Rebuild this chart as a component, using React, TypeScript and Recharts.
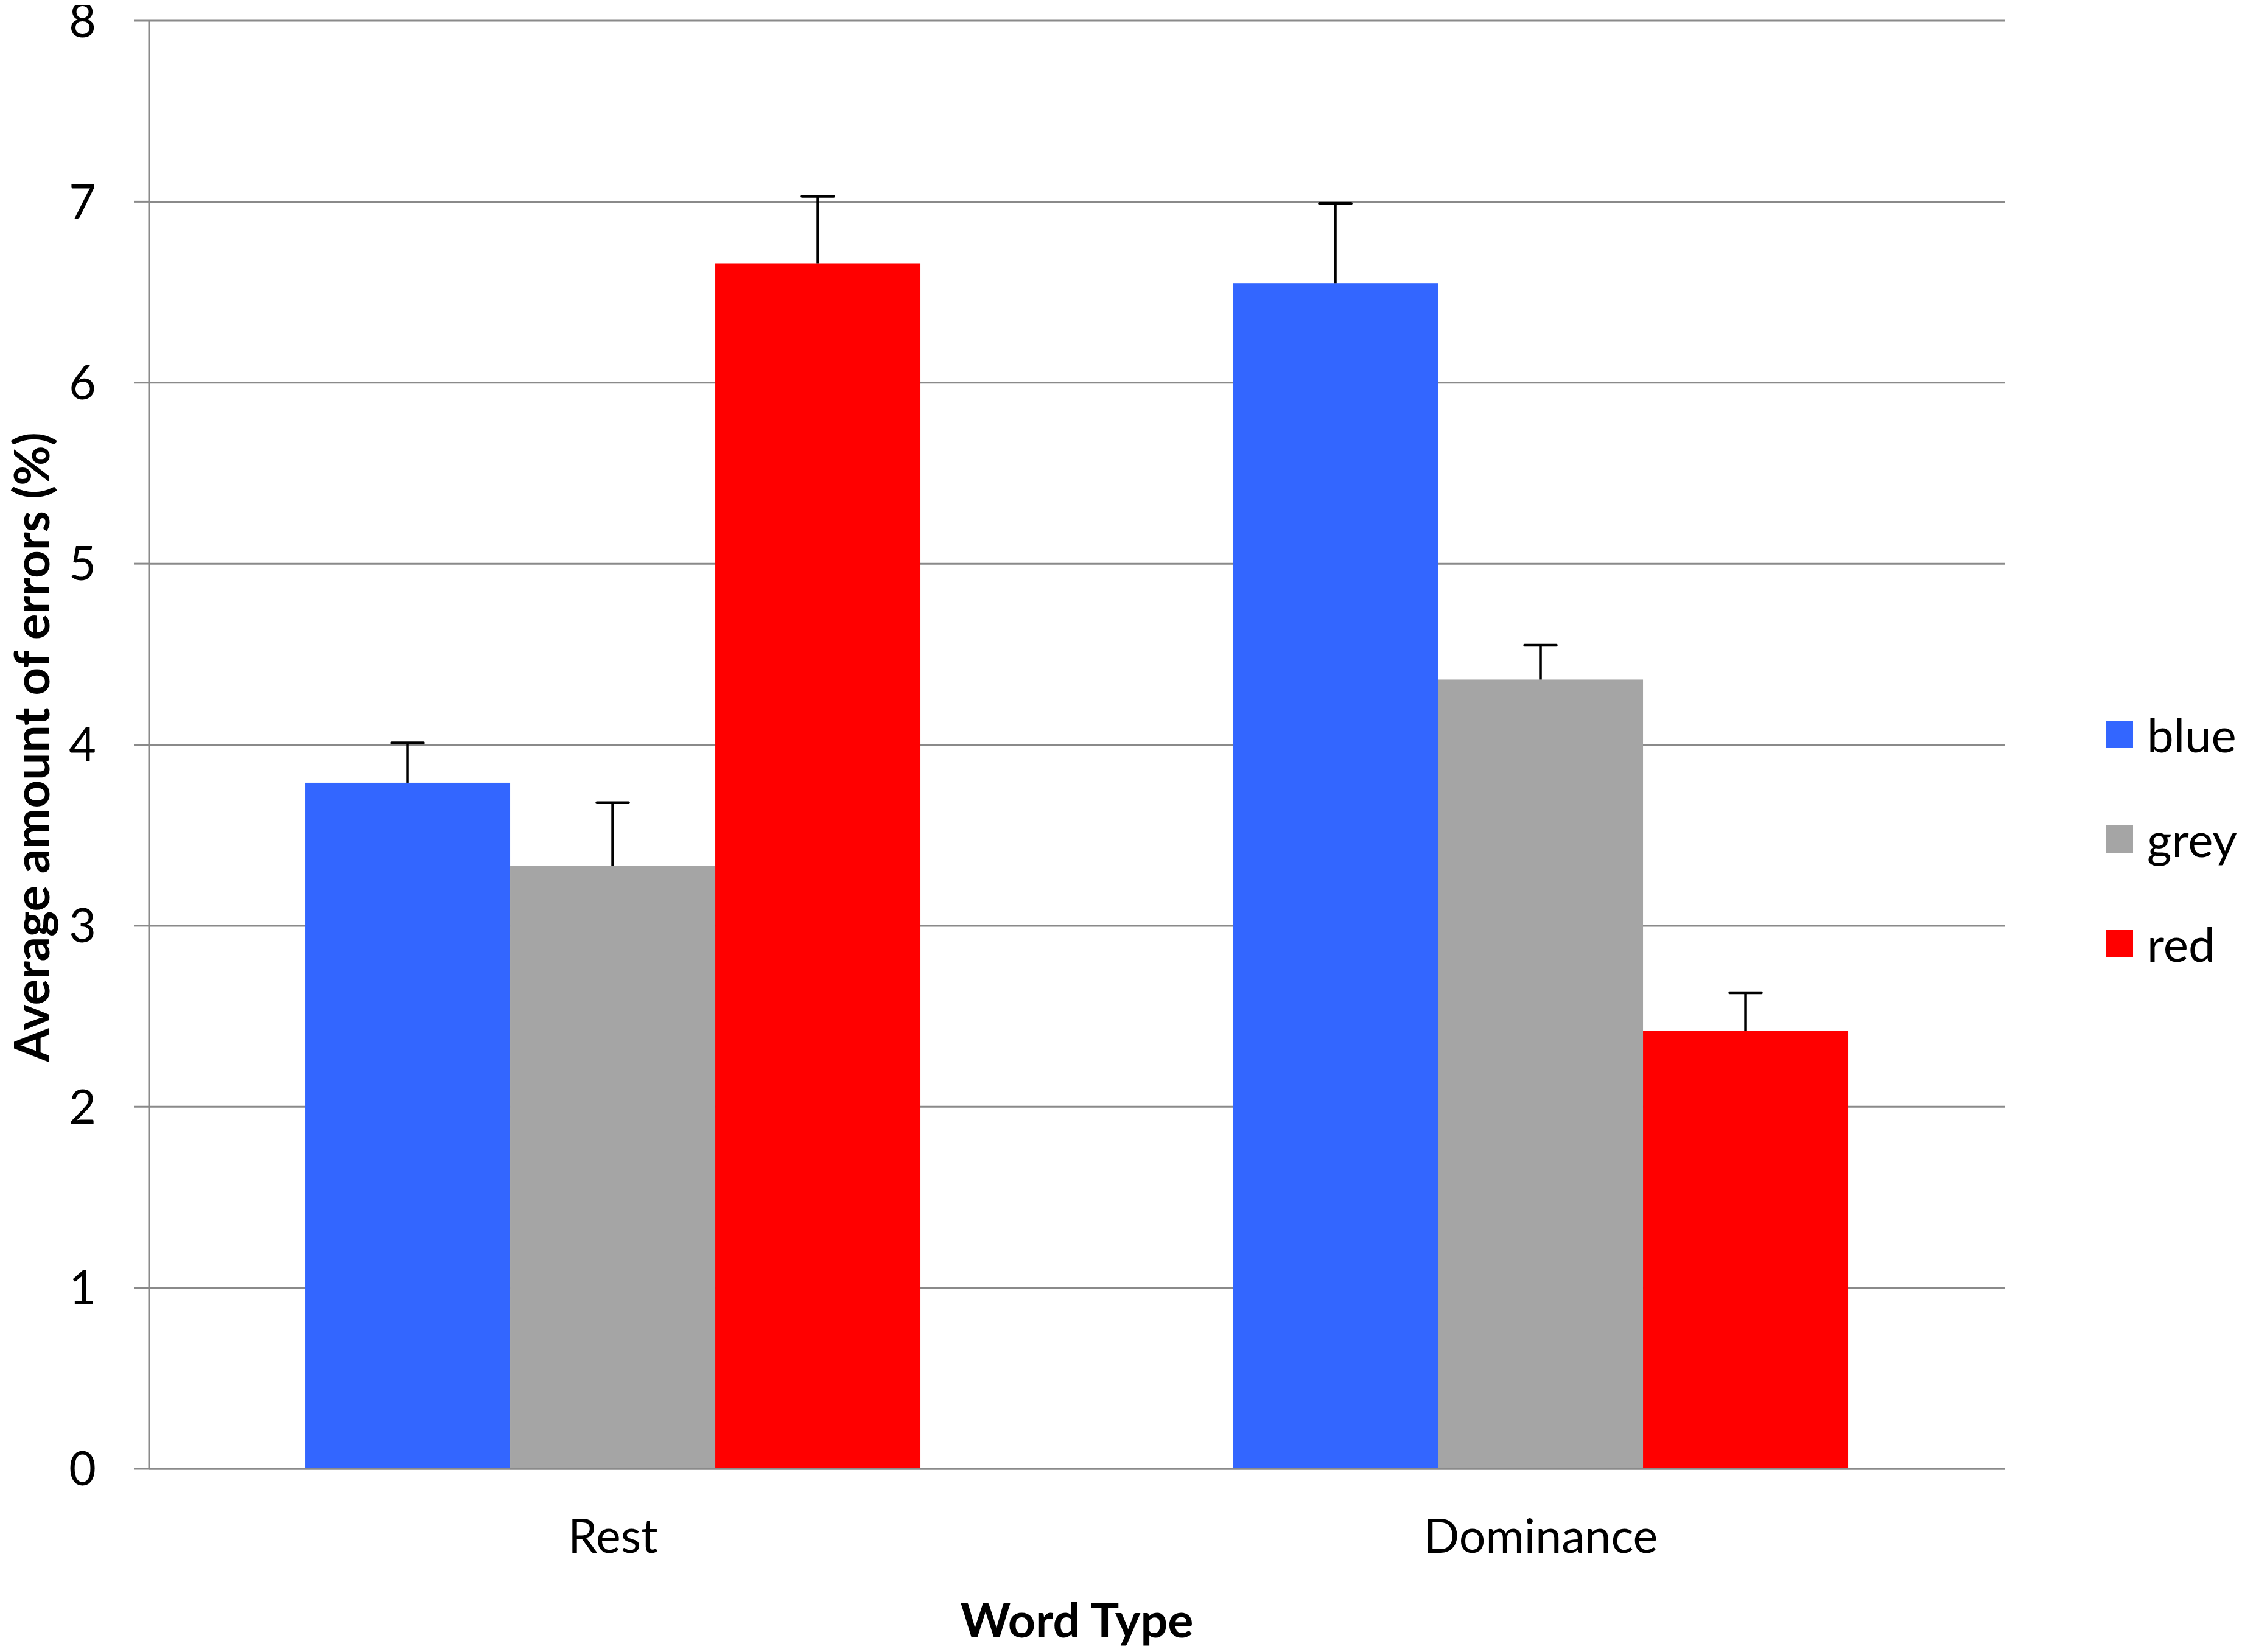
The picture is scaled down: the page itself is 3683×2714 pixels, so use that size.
import { BarChart, Bar, XAxis, YAxis, CartesianGrid, Legend } from "recharts";

// Word type categories along the x axis
const categories = ["Rest", "Dominance"];

// Mean error rates (%) per colour
const blueValues = [3.79, 6.55];
const greyValues = [3.33, 4.36];
const redValues = [6.66, 2.42];

// Upper error bar lengths (%)
const blueErrors = [0.22, 0.44];
const greyErrors = [0.35, 0.19];
const redErrors = [0.37, 0.21];

const yTicks = [0, 1, 2, 3, 4, 5, 6, 7, 8];
const edgeTicks = [0, 1, 2];

const seriesNames = ["blue", "grey", "red"];
const seriesColors = ["#3366FF", "#A5A5A5", "#FF0000"];

const data = categories.map((category, i) => ({
    category,
    blue: blueValues[i],
    blueErr: blueErrors[i],
    grey: greyValues[i],
    greyErr: greyErrors[i],
    red: redValues[i],
    redErr: redErrors[i],
}));

const FONT = "Lato, 'Open Sans', sans-serif";
const AXIS_GREY = "#8a8a8a";

// bar with a plus-only error bar, scaled from the bar's own pixel height
function makeShape(valueKey: string, errKey: string) {
    return (props: any) => {
        const { x, y, width, height, fill, payload } = props;
        const value = payload[valueKey];
        const err = payload[errKey];
        const pxPerUnit = value ? height / value : 0;
        const top = y - err * pxPerUnit;
        const cx = x + width / 2;
        const cap = 26;
        return (
            <g>
                <rect x={x} y={y} width={width} height={height} fill={fill} />
                <line x1={cx} y1={y} x2={cx} y2={top} stroke="#000" strokeWidth={4.5} />
                <line x1={cx - cap} y1={top} x2={cx + cap} y2={top} stroke="#000" strokeWidth={4.5} strokeLinecap="round" />
            </g>
        );
    };
}

function LegendBox({ payload }: any) {
    return (
        <div style={{ fontFamily: FONT }}>
            {(payload || []).map((item: any) => (
                <div key={item.value} style={{ display: "flex", alignItems: "center", height: 172 }}>
                    <div style={{ width: 45, height: 45, background: item.color, marginRight: 23 }} />
                    <span style={{ fontSize: 78, color: "#000", lineHeight: 1 }}>{item.value}</span>
                </div>
            ))}
        </div>
    );
}

export default function App() {
    return (
        <BarChart
            width={3675}
            height={2706}
            data={data}
            margin={{ top: 26, right: 390, bottom: 20, left: 0 }}
            barCategoryGap="16.8%"
            barGap={0}
            style={{ fontFamily: FONT, background: "#fff" }}
        >
            <CartesianGrid vertical={false} stroke={AXIS_GREY} strokeWidth={3} />
            {/* boundary tick marks between categories, Excel style */}
            <XAxis
                xAxisId={0}
                type="number"
                domain={[0, 2]}
                ticks={edgeTicks}
                tick={false}
                axisLine={false}
                tickLine={{ stroke: AXIS_GREY, strokeWidth: 3 }}
                tickSize={25}
                height={0}
            />
            <XAxis
                xAxisId="cat"
                dataKey="category"
                height={281}
                tickLine={false}
                tickSize={0}
                tickMargin={83}
                axisLine={{ stroke: AXIS_GREY, strokeWidth: 3 }}
                tick={{ fontSize: 77, fill: "#000", fontFamily: FONT }}
                label={{
                    content: ({ viewBox }: any) => (
                        <text
                            x={viewBox.x + viewBox.width / 2}
                            y={viewBox.y + 246}
                            textAnchor="middle"
                            dominantBaseline="central"
                            fontSize={79}
                            fontWeight={700}
                            fontFamily={FONT}
                            fill="#000"
                        >
                            Word Type
                        </text>
                    ),
                }}
            />
            <YAxis
                width={237}
                domain={[0, 8]}
                ticks={yTicks}
                interval={0}
                tickSize={25}
                tickMargin={62}
                axisLine={{ stroke: AXIS_GREY, strokeWidth: 3 }}
                tickLine={{ stroke: AXIS_GREY, strokeWidth: 3 }}
                tick={{ fontSize: 77, fill: "#000", fontFamily: FONT }}
                label={{
                    content: ({ viewBox }: any) => {
                        const lx = viewBox.x + 42;
                        const ly = viewBox.y + viewBox.height / 2 + 4;
                        return (
                            <text
                                x={lx}
                                y={ly}
                                transform={`rotate(-90, ${lx}, ${ly})`}
                                textAnchor="middle"
                                dominantBaseline="central"
                                fontSize={80}
                                fontWeight={700}
                                fontFamily={FONT}
                                fill="#000"
                            >
                                Average amount of errors (%)
                            </text>
                        );
                    },
                }}
            />
            <Legend
                layout="vertical"
                align="center"
                verticalAlign="middle"
                wrapperStyle={{ left: 3451, top: 1112, width: 230 }}
                content={<LegendBox />}
            />
            {seriesNames.map((name, i) => (
                <Bar
                    key={name}
                    xAxisId="cat"
                    dataKey={name}
                    name={name}
                    fill={seriesColors[i]}
                    shape={makeShape(name, name + "Err")}
                    isAnimationActive={false}
                />
            ))}
        </BarChart>
    );
}
